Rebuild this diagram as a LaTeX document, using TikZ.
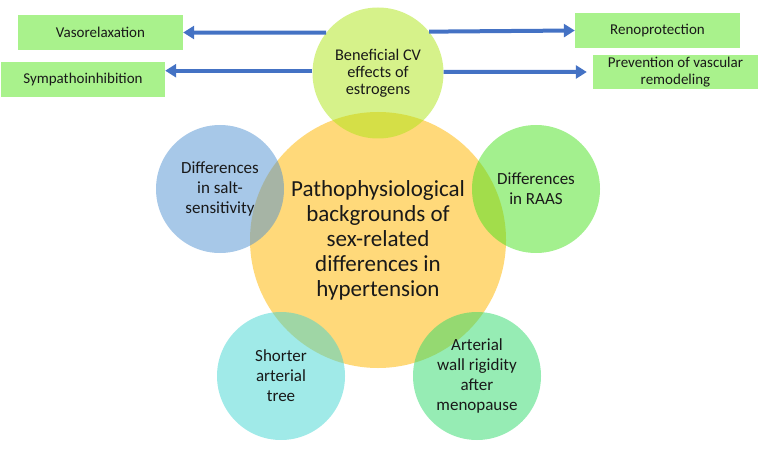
\documentclass[tikz,border=0pt]{standalone}
\usepackage{fontspec}
\setmainfont{Carlito}
\usetikzlibrary{arrows.meta}

\definecolor{boxgreen}{RGB}{169,242,140}
\definecolor{arrowblue}{RGB}{68,114,196}
\definecolor{mainyellow}{RGB}{255,217,122}
\definecolor{limegreen}{RGB}{173,229,21}
\definecolor{saltblue}{RGB}{79,145,209}
\definecolor{raasgreen}{RGB}{71,225,29}
\definecolor{treecyan}{RGB}{65,213,209}
\definecolor{wallgreen}{RGB}{45,217,105}

\tikzset{
  bubble/.style={circle, inner sep=0pt, minimum size=128pt, fill opacity=0.5,
    text opacity=1, align=center, text=black!90, font=\fontsize{17}{20}\selectfont},
  effect/.style={fill=boxgreen, inner sep=0pt, minimum width=165pt, minimum height=35pt,
    align=center, text=black!90, font=\fontsize{15}{17.5}\selectfont},
  link/.style={draw=arrowblue, line width=4pt, -{Triangle[length=11pt,width=13pt]}}
}

\begin{document}
\begin{tikzpicture}[x=1pt, y=-1pt]
  \useasboundingbox (0,0) rectangle (767,449);

  % central circle and the circles round it
  \node[circle, fill=mainyellow, minimum size=256pt, inner sep=0pt, align=center,
    text=black!90, font=\fontsize{23}{25}\selectfont] (main) at (378,240)
    {Pathophysiological\\backgrounds of\\sex-related\\differences in\\hypertension};
  \node[bubble, fill=limegreen, minimum size=131pt, font=\fontsize{16.3}{16.8}\selectfont]
    (bcv) at (378,73) {Beneficial CV\\effects of\\estrogens};
  \node[bubble, fill=saltblue] (salt) at (220,189) {Differences\\in salt-\\sensitivity};
  \node[bubble, fill=raasgreen] (raas) at (536,189) {Differences\\in RAAS};
  \node[bubble, fill=treecyan] (tree) at (281,376) {Shorter\\arterial\\tree};
  \node[bubble, fill=wallgreen] (wall) at (477,376) {Arterial\\wall rigidity\\after\\menopause};

  % effects of estrogens
  \node[effect] (vaso) at (100.5,32.5) {Vasorelaxation};
  \node[effect, minimum width=164pt] (symp) at (83,79.5) {Sympathoinhibition};
  \node[effect] (reno) at (657.5,30.5) {Renoprotection};
  \node[effect, minimum height=34pt] (prev) at (675.5,72) {Prevention of vascular\\remodeling};

  \draw[link] (bcv.142) -- (vaso.east);
  \draw[link] (bcv.178) -- (bcv.178 -| symp.east);
  \draw[link] (bcv.39) -- (reno.west);
  \draw[link, shorten >=6pt] (bcv.1) -- (prev.west);
\end{tikzpicture}
\end{document}
